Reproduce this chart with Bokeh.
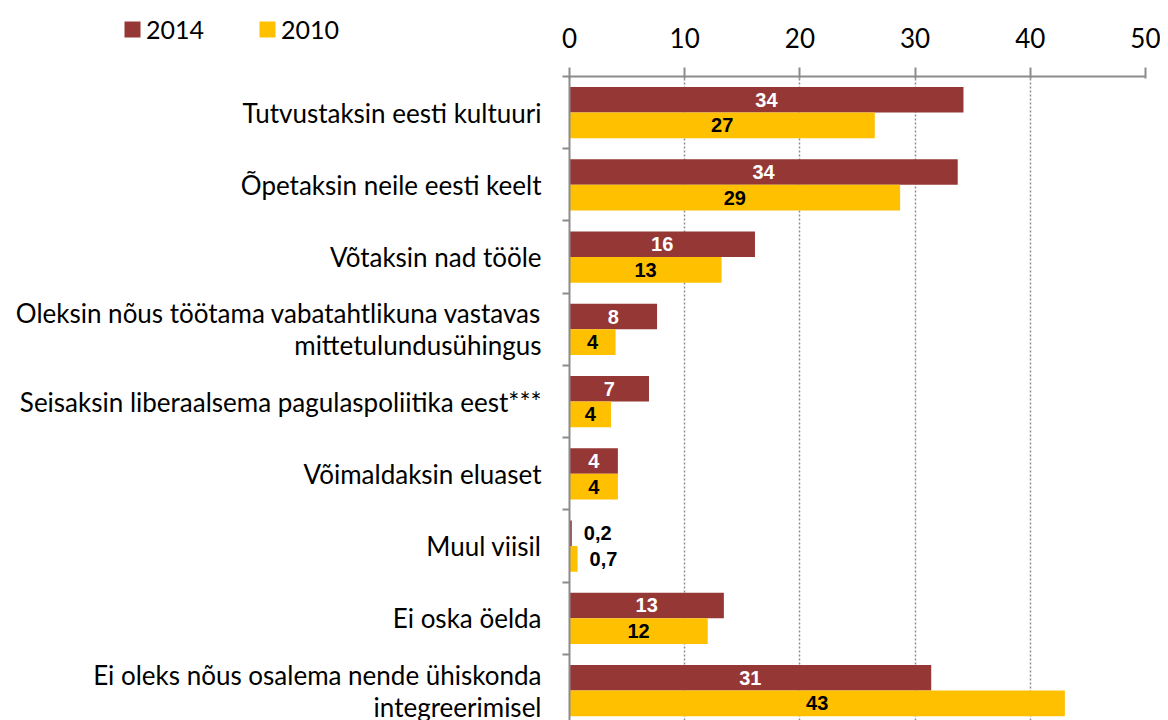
from bokeh.plotting import figure
from bokeh.layouts import row
from bokeh.models import (Range1d, FixedTicker, ColumnDataSource, Legend, LegendItem)
from bokeh.core.properties import value
from bokeh.embed import file_html
from bokeh.resources import INLINE

categories = [
    "Tutvustaksin eesti kultuuri",
    "Õpetaksin neile eesti keelt",
    "Võtaksin nad tööle",
    "Oleksin nõus töötama vabatahtlikuna vastavas\nmittetulundusühingus",
    "Seisaksin liberaalsema pagulaspoliitika eest***",
    "Võimaldaksin eluaset",
    "Muul viisil",
    "Ei oska öelda",
    "Ei oleks nõus osalema nende ühiskonda\nintegreerimisel",
]
values_2014 = [34.2, 33.7, 16.1, 7.6, 6.9, 4.2, 0.2, 13.4, 31.4]
values_2010 = [26.5, 28.7, 13.2, 4.0, 3.6, 4.2, 0.7, 12.0, 43.0]
labels_2014 = ["34", "34", "16", "8", "7", "4", "0,2", "13", "31"]
labels_2010 = ["27", "29", "13", "4", "4", "4", "0,7", "12", "43"]
x_ticks = [0, 10, 20, 30, 40, 50]

C2014 = "#953735"
C2010 = "#FFC000"
AXIS = "#8c8c8c"
FONT = "Lato"

n = len(categories)
centers = [-i for i in range(n)]
bar_h = 0.355

H = 720
TOP = 76
LEFT_W = 561
y_bot, y_top = -(n - 1) - 0.415, 0.5
unit_px = (H - TOP) / (y_top - y_bot)

# ---- main chart
p = figure(width=599, height=H, output_backend="svg", toolbar_location=None,
           x_range=Range1d(0, 50), y_range=Range1d(y_bot, y_top),
           x_axis_location="above", min_border_left=8, min_border_right=15,
           min_border_top=TOP, min_border_bottom=0)
p.outline_line_color = None
p.frame_align = False

src14 = ColumnDataSource(dict(y=[c + bar_h / 2 for c in centers], v=values_2014))
src10 = ColumnDataSource(dict(y=[c - bar_h / 2 for c in centers], v=values_2010))
r14 = p.hbar(y="y", left=0, right="v", height=bar_h, source=src14, fill_color=C2014, line_color=None)
r10 = p.hbar(y="y", left=0, right="v", height=bar_h, source=src10, fill_color=C2010, line_color=None)

def label_src(vals, labs, ys, inside_color):
    xs, aligns, offs, cols = [], [], [], []
    for v in vals:
        if v >= 2:
            xs.append(v / 2); aligns.append("center"); offs.append(0); cols.append(inside_color)
        else:
            xs.append(v); aligns.append("left"); offs.append(12); cols.append("black")
    return ColumnDataSource(dict(x=xs, y=ys, t=labs, a=aligns, o=offs, c=cols))

for vals, labs, src, col in [(values_2014, labels_2014, src14, "white"), (values_2010, labels_2010, src10, "black")]:
    ls = label_src(vals, labs, src.data["y"], col)
    p.text(x="x", y="y", text="t", source=ls, text_align="a", x_offset="o", text_color="c",
           text_baseline="middle", text_font_size="20px", text_font_style="bold",
           text_font=value("Liberation Sans"))

xa = p.xaxis[0]
xa.ticker = FixedTicker(ticks=x_ticks)
xa.major_label_text_font = FONT
xa.major_label_text_font_size = "26px"
xa.major_label_text_color = "black"
xa.axis_line_color = AXIS
xa.axis_line_width = 2
xa.major_tick_line_color = AXIS
xa.major_tick_line_width = 2
xa.major_tick_out = 9
xa.major_tick_in = 2
xa.minor_tick_line_color = None
xa.major_label_standoff = 20

ya = p.yaxis[0]
ya.ticker = FixedTicker(ticks=[], minor_ticks=[c - 0.5 for c in centers] + [0.5])
ya.major_label_text_font_size = "0px"
ya.major_label_standoff = 0
ya.axis_line_color = AXIS
ya.axis_line_width = 2
ya.major_tick_line_color = None
ya.major_tick_out = 0
ya.major_tick_in = 0
ya.minor_tick_line_color = AXIS
ya.minor_tick_line_width = 2
ya.minor_tick_out = 7
ya.minor_tick_in = 0

p.ygrid.grid_line_color = None
p.xgrid.ticker = FixedTicker(ticks=x_ticks[1:])
p.xgrid.grid_line_color = AXIS
p.xgrid.grid_line_dash = "2 2"
p.xgrid.grid_line_width = 1.5

# ---- left panel: category labels + legend
left = figure(width=LEFT_W, height=H, output_backend="svg", toolbar_location=None,
              x_range=Range1d(0, 1), y_range=Range1d(y_bot, y_top + TOP / unit_px),
              min_border=0)
left.frame_align = False
left.axis.visible = False
left.grid.visible = False
left.outline_line_color = None
cat_src = ColumnDataSource(dict(x=[1] * n, y=centers, t=categories))
left.text(x="x", y="y", text="t", source=cat_src, x_offset=-20, text_align="right",
          text_baseline="middle", text_font=value(FONT), text_font_size="26px",
          text_line_height=1.0, text_color="black")

d14 = left.hbar(y=[y_bot - 5], left=[0], right=[0.01], height=0.1, fill_color=C2014, line_color=None)
d10 = left.hbar(y=[y_bot - 5], left=[0], right=[0.01], height=0.1, fill_color=C2010, line_color=None)
for r, name, loc in [(d14, "2014", (122, 676)), (d10, "2010", (257, 676))]:
    lg = Legend(items=[LegendItem(label=name, renderers=[r])], location=loc,
                glyph_width=20, glyph_height=20, label_standoff=4, padding=0, margin=0,
                border_line_color=None, background_fill_alpha=0,
                label_text_font=FONT, label_text_font_size="25px", label_text_line_height=1.0,
                label_text_color="black")
    left.add_layout(lg, "center")

layout = row(left, p, spacing=0)
open("out.html", "w").write(file_html(layout, INLINE))
